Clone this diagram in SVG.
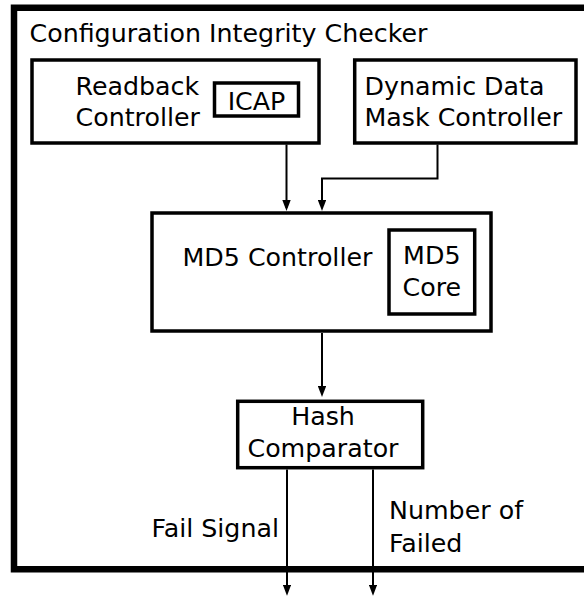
<svg xmlns="http://www.w3.org/2000/svg" width="584" height="597" viewBox="0 0 584 597">
<defs>
<style>
text{font-family:"DejaVu Sans","Liberation Sans",sans-serif;font-size:25.3px;fill:#000}
.box{fill:#fff;stroke:#000;stroke-width:3.5}
.frame{fill:#fff;stroke:#000;stroke-width:6.5}
.conn{fill:none;stroke:#000;stroke-width:2}
.mid{text-anchor:middle}
</style>
<marker id="arr" viewBox="0 0 11 8.4" refX="8" refY="4.2" markerWidth="11" markerHeight="8.4" markerUnits="userSpaceOnUse" orient="auto">
<path d="M0,0 L11,4.2 L0,8.4 z" fill="#000"/>
</marker>
</defs>
<rect x="0" y="0" width="584" height="597" fill="#fff"/>
<g id="checker">
<rect class="frame" x="14" y="7.75" width="600" height="561.5"/>
<text x="29.5" y="42">Configuration Integrity Checker</text>
</g>
<g id="readback">
<rect class="box" x="32" y="60" width="287" height="83"/>
<text x="75.5" y="95">Readback</text>
<text x="75.5" y="126">Controller</text>
</g>
<g id="icap">
<rect class="box" x="214.5" y="83" width="84" height="33"/>
<text x="256.5" y="109.5" class="mid">ICAP</text>
</g>
<g id="dynamic">
<rect class="box" x="354.7" y="60" width="221.3" height="83"/>
<text x="364.5" y="95">Dynamic Data</text>
<text x="364.5" y="126">Mask Controller</text>
</g>
<g id="md5ctrl">
<rect class="box" x="152" y="213" width="339" height="118"/>
<text x="182.5" y="266">MD5 Controller</text>
</g>
<g id="md5core">
<rect class="box" x="389" y="230" width="85.7" height="84"/>
<text x="431.8" y="264" class="mid">MD5</text>
<text x="431.8" y="295.5" class="mid">Core</text>
</g>
<g id="hash">
<rect class="box" x="237.7" y="401.3" width="185" height="66.4"/>
<text x="323" y="425" class="mid">Hash</text>
<text x="323" y="457" class="mid">Comparator</text>
</g>
<g id="connectors">
<path class="conn" d="M286.5,144.5 L286.5,208" marker-end="url(#arr)"/>
<path class="conn" d="M437.5,144.5 L437.5,178.5 L322,178.5 L322,208" marker-end="url(#arr)"/>
<path class="conn" d="M322,333 L322,394" marker-end="url(#arr)"/>
<path class="conn" d="M287,469.5 L287,592.7" marker-end="url(#arr)"/>
<path class="conn" d="M373,469.5 L373,592.7" marker-end="url(#arr)"/>
<text x="279" y="537" text-anchor="end">Fail Signal</text>
<text x="389" y="519">Number of</text>
<text x="389" y="551.5">Failed</text>
</g>
</svg>
